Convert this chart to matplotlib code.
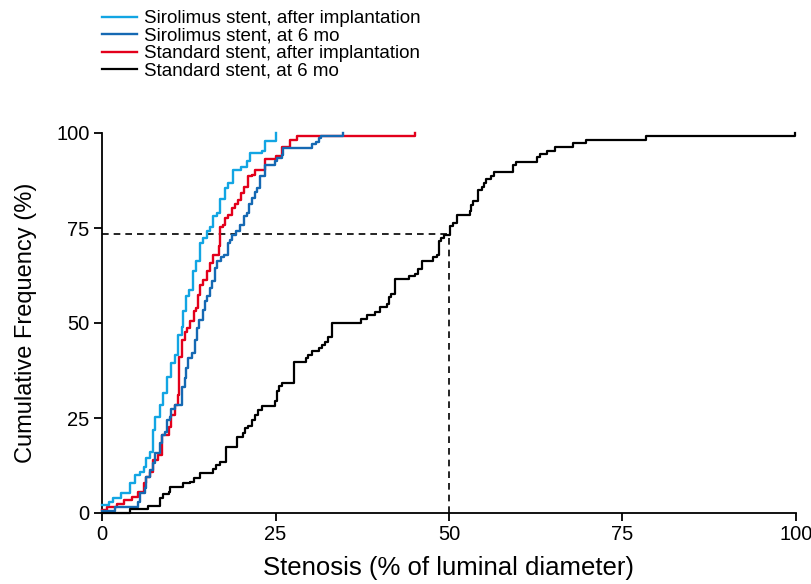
"""
Cumulative frequency of stenosis, sirolimus vs standard stent
"""
import matplotlib
matplotlib.use('Agg')
import matplotlib.pyplot as plt

# Sirolimus stent, after implantation
sir_post_x = [0, 1.05, 1.6, 2.8, 4.0, 4.7, 5.5, 6.1, 6.4, 6.9,
              7.3, 7.6, 8.4, 8.8, 9.3, 10.0, 10.5, 11.0, 11.5, 11.7,
              12.1, 12.6, 13.1, 13.5, 14.1, 14.6, 15.1, 15.6, 16.0, 16.5,
              17.0, 17.7, 18.2, 18.9, 20.1, 20.9, 21.3, 23.0, 23.5, 25.1]
sir_post_y = [2.1, 3.0, 3.9, 5.2, 7.8, 10.0, 10.9, 12.2, 14.4, 16.1,
              21.8, 25.3, 28.4, 31.5, 35.9, 39.4, 41.6, 46.8, 49.0, 53.2,
              57.0, 58.8, 63.6, 66.2, 71.1, 72.4, 74.1, 75.2, 78.1, 78.9,
              82.7, 85.5, 86.8, 90.3, 91.0, 92.6, 94.7, 95.2, 97.8, 100]

# Sirolimus stent, at 6 mo
sir_6mo_x = [0, 1.9, 5.2, 5.5, 6.2, 6.4, 6.9, 7.3, 7.6, 8.4,
             8.6, 9.1, 9.3, 9.8, 10.0, 10.5, 11.5, 12.0, 12.1, 12.4,
             12.9, 13.4, 13.7, 14.0, 14.5, 14.8, 15.1, 15.5, 15.8, 16.3,
             16.6, 17.1, 17.6, 18.1, 18.4, 18.8, 19.3, 19.9, 20.5, 20.9,
             21.2, 21.6, 22.0, 22.4, 22.8, 23.5, 24.9, 25.2, 26.0, 26.1,
             30.2, 30.9, 31.3, 31.5, 34.7]
sir_6mo_y = [0.6, 1.7, 3.0, 5.2, 6.5, 9.6, 11.3, 13.1, 15.7, 18.3,
             20.5, 21.4, 24.5, 25.3, 27.5, 28.4, 33.2, 35.4, 38.1, 40.7,
             42.0, 45.5, 48.6, 50.8, 53.5, 55.7, 57.0, 59.2, 61.0, 64.5,
             66.4, 67.5, 68.0, 71.1, 71.9, 73.2, 74.1, 75.9, 78.1, 78.9,
             81.3, 82.9, 84.6, 85.5, 88.6, 91.7, 92.6, 93.4, 94.3, 96.1,
             97.2, 97.6, 98.7, 99.1, 100]

# Standard stent, after implantation
std_post_x = [0, 0.7, 2.1, 3.1, 4.3, 5.2, 6.0, 6.4, 6.9, 7.4,
              8.1, 8.6, 9.6, 10.0, 10.5, 10.9, 11.1, 11.5, 12.0, 12.3,
              12.7, 13.2, 13.5, 13.9, 14.1, 14.6, 15.1, 15.5, 16.0, 16.9,
              17.0, 17.4, 17.7, 18.2, 18.7, 19.2, 19.6, 20.1, 20.5, 21.1,
              21.6, 22.0, 23.5, 25.1, 25.9, 26.0, 27.1, 28.1, 45.1]
std_post_y = [0.8, 1.7, 2.5, 3.4, 4.3, 5.6, 7.8, 9.6, 10.9, 13.9,
              15.3, 20.5, 22.7, 25.8, 28.4, 31.1, 41.1, 45.5, 47.7, 48.6,
              50.6, 53.1, 53.9, 57.5, 60.1, 61.4, 63.6, 65.8, 68.0, 70.2,
              75.2, 75.9, 77.6, 78.3, 80.3, 81.3, 82.5, 84.2, 85.7, 88.6,
              89.0, 90.3, 93.2, 93.9, 95.2, 96.2, 98.2, 99.1, 100]

# Standard stent, at 6 mo
std_6mo_x = [0, 4.1, 6.7, 8.4, 8.8, 9.6, 9.8, 11.7, 12.7, 13.2,
             14.1, 16.0, 16.4, 17.0, 17.9, 19.4, 20.3, 20.6, 21.1, 21.6,
             22.0, 22.5, 23.0, 24.9, 25.2, 25.5, 25.9, 27.6, 27.7, 29.4,
             29.7, 30.2, 31.2, 31.7, 32.1, 32.6, 33.1, 37.3, 38.2, 39.3,
             40.1, 41.0, 41.3, 41.7, 42.2, 44.3, 45.1, 45.6, 46.1, 47.7,
             48.2, 48.5, 48.9, 49.3, 50.2, 50.6, 51.1, 53.0, 53.1, 53.5,
             54.2, 54.7, 55.0, 55.4, 56.0, 56.5, 59.2, 59.7, 62.7, 63.1,
             64.1, 65.3, 67.8, 69.7, 78.4, 99.8]
std_6mo_y = [0, 1.0, 1.8, 3.9, 4.9, 5.6, 6.8, 7.8, 8.2, 9.1,
             10.6, 11.5, 12.6, 13.3, 17.3, 20.1, 21.0, 22.3, 22.9, 24.6,
             25.8, 27.1, 28.2, 29.6, 32.2, 33.4, 34.1, 35.7, 39.8, 40.7,
             41.6, 42.6, 43.3, 44.2, 45.1, 46.2, 50.1, 51.0, 52.1, 53.0,
             54.1, 55.0, 56.8, 57.6, 61.5, 62.4, 62.9, 64.1, 66.2, 67.3,
             67.9, 71.7, 72.3, 73.2, 75.5, 76.4, 78.4, 79.6, 81.1, 82.2,
             85.0, 85.9, 86.8, 87.8, 88.7, 89.8, 91.6, 92.5, 93.6, 94.5,
             95.3, 96.4, 97.3, 98.2, 99.2, 100]

# reference marker: 50% stenosis reached at ~73% cumulative frequency
ref_x = 50
ref_y = 73.3

plt.rcParams['font.family'] = ['Liberation Sans', 'DejaVu Sans']

fig = plt.figure(figsize=(8.12, 5.84), dpi=100)
ax = fig.add_axes([102 / 812, 1 - 513 / 584, 694 / 812, 380 / 584])

lw = 1.7
ax.step(std_post_x, std_post_y, where='post', color='#e3001b', lw=lw,
        label='Standard stent, after implantation', clip_on=False, zorder=3)
ax.step(sir_6mo_x, sir_6mo_y, where='post', color='#1569b3', lw=lw,
        label='Sirolimus stent, at 6 mo', clip_on=False, zorder=4)
ax.step(sir_post_x, sir_post_y, where='post', color='#12a5e3', lw=lw,
        label='Sirolimus stent, after implantation', clip_on=False, zorder=5)
ax.step(std_6mo_x, std_6mo_y, where='post', color='black', lw=1.6,
        label='Standard stent, at 6 mo', clip_on=False, zorder=6)

# dashed guide lines
ax.plot([0, ref_x], [ref_y, ref_y], color='black', lw=1.2, ls=(0, (4, 3)), zorder=2)
ax.plot([ref_x, ref_x], [0, ref_y], color='black', lw=1.2, ls=(0, (4, 3)), zorder=2)

ax.set_xlim(0, 100)
ax.set_ylim(0, 100)
ax.set_xticks([0, 25, 50, 75, 100])
ax.set_yticks([0, 25, 50, 75, 100])
ax.tick_params(direction='out', length=6, width=1.3, labelsize=14.5, pad=3)
for side in ['top', 'right']:
    ax.spines[side].set_visible(False)
for side in ['left', 'bottom']:
    ax.spines[side].set_linewidth(1.3)

ax.set_xlabel('Stenosis (% of luminal diameter)', fontsize=18.5, labelpad=8)
ax.set_ylabel('Cumulative Frequency (%)', fontsize=17, labelpad=14)

handles, labels = ax.get_legend_handles_labels()
order = [2, 1, 0, 3]
fig.legend([handles[i] for i in order], [labels[i] for i in order],
           loc='upper left', bbox_to_anchor=(102 / 812, 1 - 10 / 584),
           frameon=False, fontsize=13.5, handlelength=1.85, handletextpad=0.4,
           labelspacing=0.02, borderpad=0, borderaxespad=0)

plt.savefig('out.png', dpi=100)
plt.close()
